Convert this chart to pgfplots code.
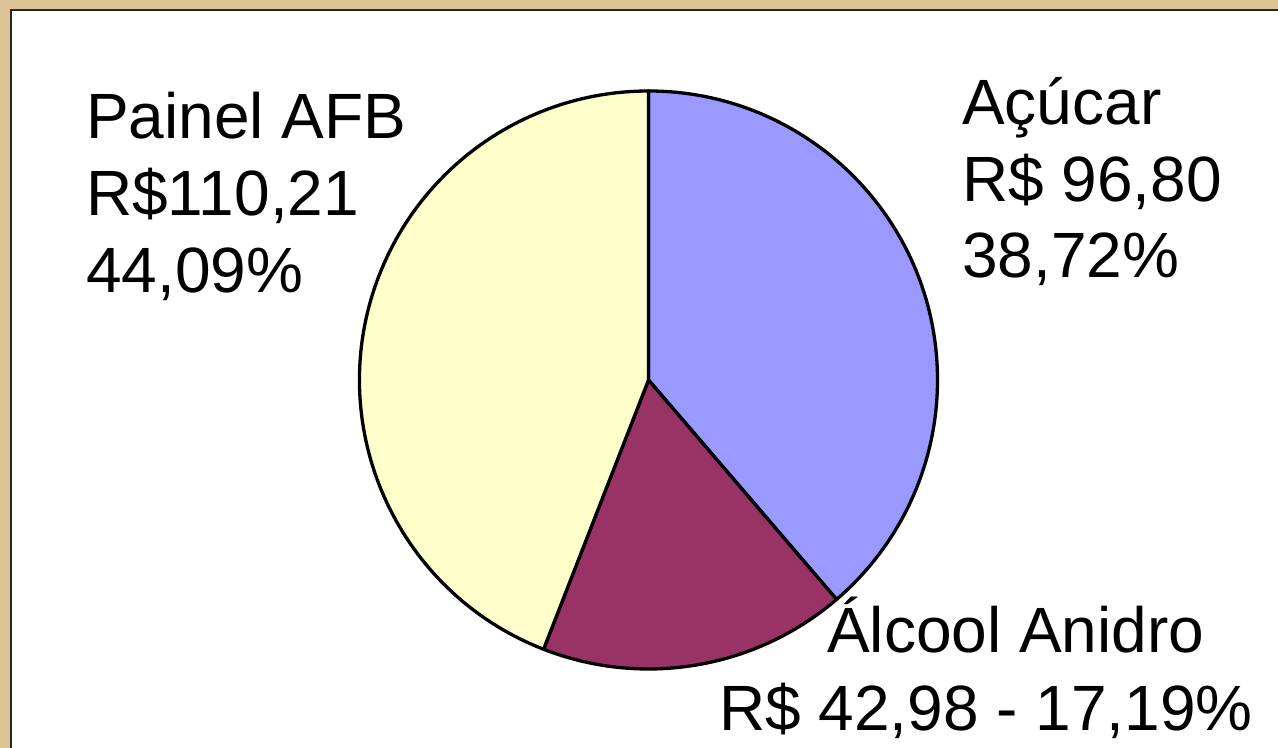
\documentclass[border=0pt]{standalone}
\usepackage{pgfplots}
\usepackage{pgfplotstable}
\pgfplotsset{compat=1.18}
\usepackage{fontspec}
\setmainfont{Liberation Sans}

\definecolor{frame}{RGB}{220,196,148}
\definecolor{acucar}{RGB}{153,153,255}
\definecolor{alcool}{RGB}{153,51,102}
\definecolor{painel}{RGB}{255,255,204}

\pgfplotstableread{
name   value
Acucar 96.80
Alcool 42.98
Painel 110.21
}\piedata

\begin{document}
\begin{tikzpicture}
\fill[frame] (0,0) rectangle (1278bp,748bp);
\filldraw[fill=white,draw=black!85,line width=2bp] (11bp,-5bp) rectangle (1290bp,738bp);

% slice angles, clockwise from 12 o'clock
\pgfplotstablegetelem{0}{value}\of\piedata \let\va\pgfplotsretval
\pgfplotstablegetelem{1}{value}\of\piedata \let\vb\pgfplotsretval
\pgfplotstablegetelem{2}{value}\of\piedata \let\vc\pgfplotsretval
\pgfmathsetmacro\tot{\va+\vb+\vc}
\pgfmathsetmacro\aA{90-360*(\va/\tot)}
\pgfmathsetmacro\aB{\aA-360*(\vb/\tot)}

\begin{axis}[
  x=289bp, y=289bp,
  xmin=-1, xmax=1, ymin=-1, ymax=1,
  hide axis, clip=false,
  at={(648.5bp,368bp)}, anchor=center,
]
\addplot[draw=none] coordinates {(0,0)};
\filldraw[fill=acucar,draw=black,line width=3.3bp,line join=round]
  (axis cs:0,0) -- (axis cs:0,1) arc[start angle=90,end angle=\aA,radius=289bp] -- cycle;
\filldraw[fill=alcool,draw=black,line width=3.3bp,line join=round]
  (axis cs:0,0) -- (axis cs:{cos(\aA)},{sin(\aA)}) arc[start angle=\aA,end angle=\aB,radius=289bp] -- cycle;
\filldraw[fill=painel,draw=black,line width=3.3bp,line join=round]
  (axis cs:0,0) -- (axis cs:{cos(\aB)},{sin(\aB)}) arc[start angle=\aB,end angle=-270,radius=289bp] -- cycle;
\end{axis}

\tikzset{lbl/.style={anchor=base west,inner sep=0pt,font=\fontsize{64bp}{77bp}\selectfont}}
\node[lbl] at (86bp,609bp) {Painel AFB};
\node[lbl] at (86bp,532bp) {R\$110,21};
\node[lbl] at (86bp,455bp) {44,09\%};
\node[lbl] at (962bp,623bp) {Açúcar};
\node[lbl] at (962bp,546bp) {R\$ 96,80};
\node[lbl] at (962bp,470bp) {38,72\%};
\node[lbl] at (827bp,95bp) {Álcool Anidro};
\node[lbl] at (719bp,18bp) {R\$ 42,98 - 17,19\%};
\pgfresetboundingbox
\path[use as bounding box] (0,0) rectangle (1278bp,748bp);
\end{tikzpicture}
\end{document}
